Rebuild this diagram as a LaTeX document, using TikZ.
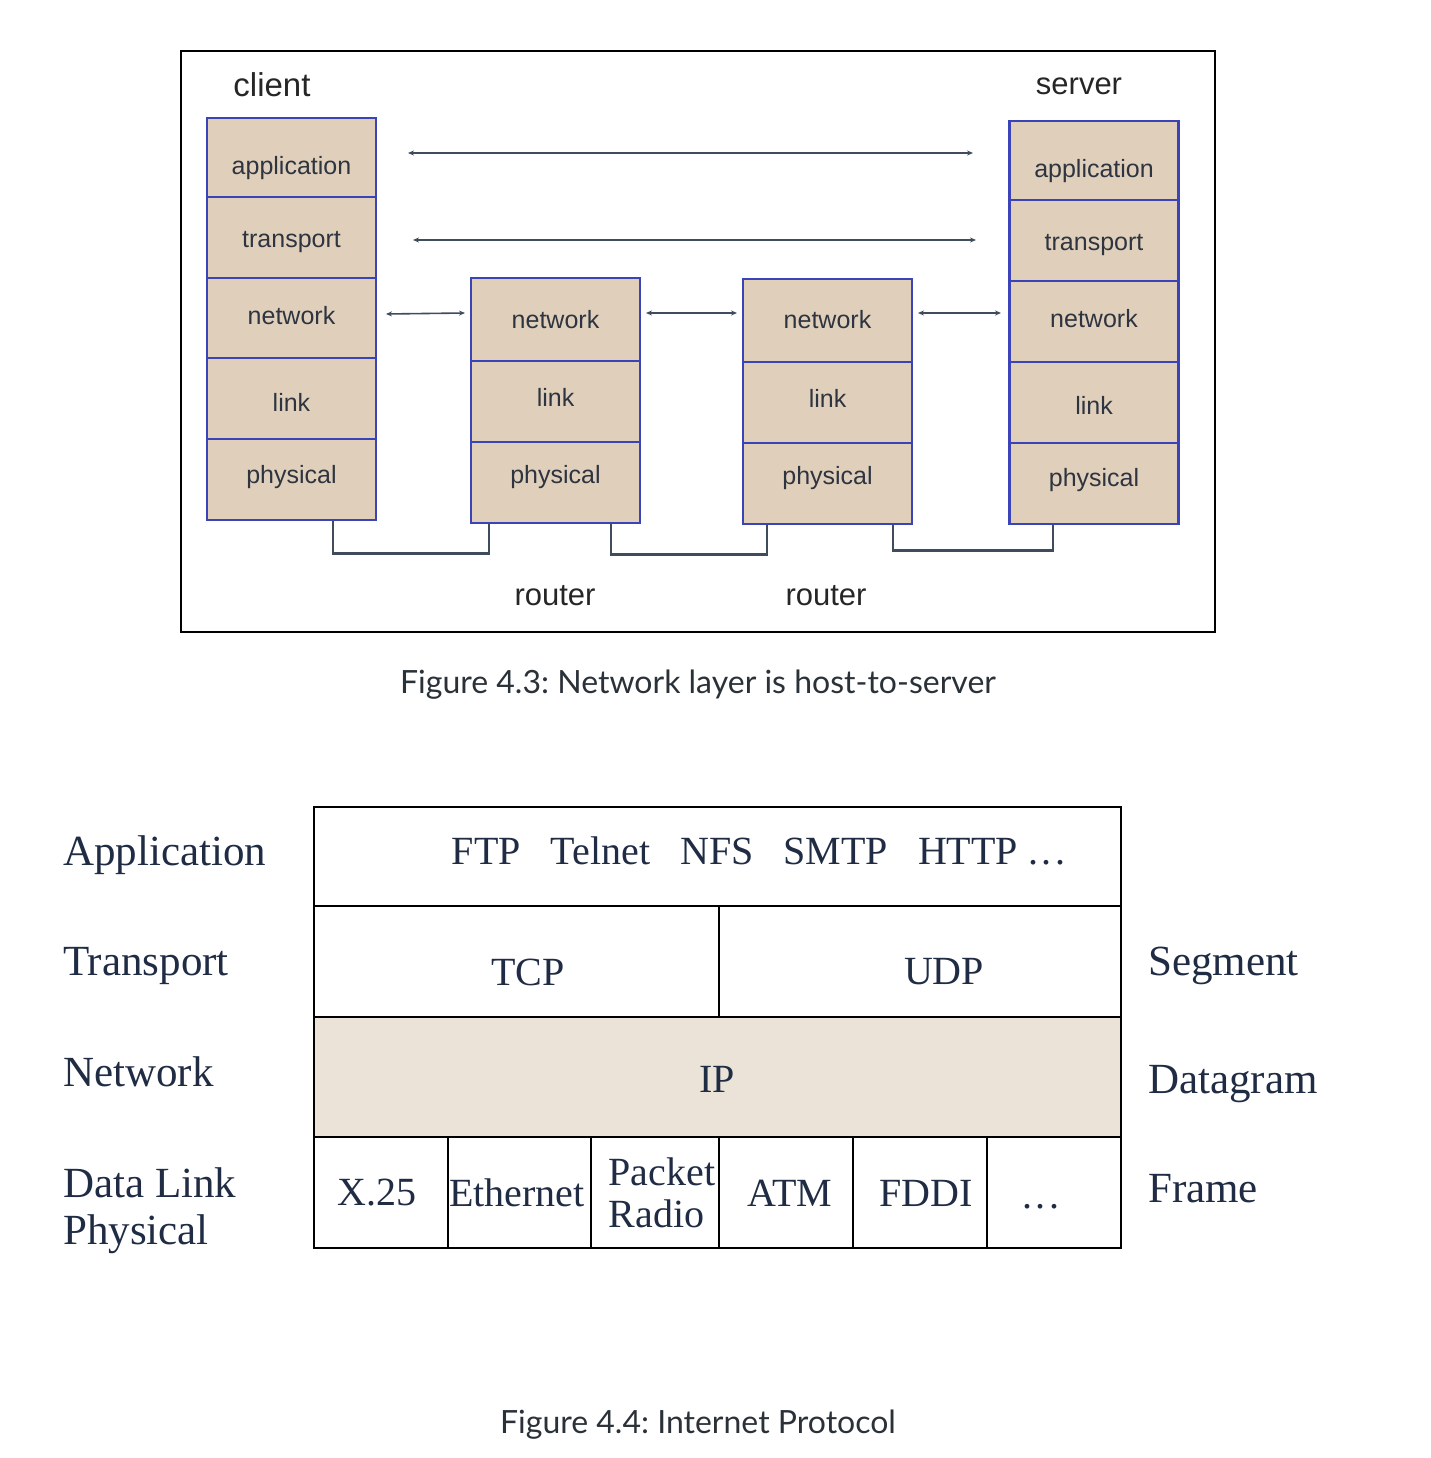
\documentclass[tikz,border=0pt]{standalone}
\usepackage{fontspec}
\setmainfont{Liberation Serif}
\newfontfamily\arialf{Liberation Sans}
\newfontfamily\latof{Lato}
\usetikzlibrary{arrows.meta,calc}
\definecolor{tanfill}{HTML}{E0D0BB}
\definecolor{boxblue}{HTML}{3A44B8}
\definecolor{celltext}{HTML}{2E3440}
\definecolor{wirecol}{HTML}{3E4C5E}
\definecolor{ipfill}{HTML}{EBE3D7}
\definecolor{serifcol}{HTML}{1F2C44}
\definecolor{capcol}{HTML}{2A3138}
\newcommand{\mydots}{.\hspace{3.5pt}.\hspace{3.5pt}.}
\frenchspacing
\tikzset{
  cell/.style={draw=boxblue, line width=2.8pt, fill=tanfill, minimum width=169pt,
    inner sep=0pt},
  ctext/.style={font=\arialf\fontsize{25}{25}\selectfont, text=celltext, inner sep=0pt},
  biarrow/.style={draw=wirecol, line width=1.6pt,
    {Stealth[length=6pt,width=5pt]}-{Stealth[length=6pt,width=5pt]}},
  wire/.style={draw=wirecol, line width=2.6pt},
  biglabel/.style={font=\arialf\fontsize{31}{31}\selectfont, text=black!85, inner sep=0pt},
  caption/.style={font=\latof\fontsize{32}{32}\selectfont\frenchspacing, text=capcol, inner sep=0pt},
  tcell/.style={draw=black, line width=2.5pt, inner sep=0pt},
  ttext/.style={text=serifcol, font=\fontsize{40}{42}\selectfont, align=center, inner sep=0pt},
  side/.style={font=\fontsize{43}{47}\selectfont, text=serifcol, inner sep=0pt, align=left}
}
\begin{document}
\begin{tikzpicture}[x=1pt,y=-1pt]
\useasboundingbox (0,0) rectangle (1430,1458);
% ---------- Figure 4.3 ----------
\node[draw=black, line width=2pt, minimum width=1034pt, minimum height=581pt, inner sep=0pt] (frame) at (698,341.5) {};
\node[biglabel, font=\arialf\fontsize{33}{33}\selectfont, anchor=base] (client) at (272,97) {client};
\node[biglabel, anchor=base] (server) at (1079,95) {server};
% client stack
\node[cell, minimum height=79pt, label={[ctext,yshift=-11pt]center:application}] (capp) at (291.5,157.5) {};
\node[cell, minimum height=81pt, label={[ctext,yshift=-5pt]center:transport}] (ctra) at (291.5,237.5) {};
\node[cell, minimum height=80pt, label={[ctext,yshift=2pt]center:network}] (cnet) at (291.5,318) {};
\node[cell, minimum height=81pt, label={[ctext,yshift=-4pt]center:link}] (clnk) at (291.5,398.5) {};
\node[cell, minimum height=81pt, label={[ctext,yshift=2pt]center:physical}] (cphy) at (291.5,479.5) {};
% router 1
\node[cell, minimum height=83pt, label={[ctext]center:network}] (anet) at (555.5,319.5) {};
\node[cell, minimum height=81pt, label={[ctext,yshift=4pt]center:link}] (alnk) at (555.5,401.5) {};
\node[cell, minimum height=81pt, label={[ctext,yshift=5pt]center:physical}] (aphy) at (555.5,482.5) {};
% router 2
\node[cell, minimum height=83pt, label={[ctext,yshift=1pt]center:network}] (bnet) at (827.5,320.5) {};
\node[cell, minimum height=81pt, label={[ctext,yshift=4pt]center:link}] (blnk) at (827.5,402.5) {};
\node[cell, minimum height=81pt, label={[ctext,yshift=5pt]center:physical}] (bphy) at (827.5,483.5) {};
% server stack
\node[cell, minimum height=79pt, label={[ctext,yshift=-11pt]center:application}] (sapp) at (1094,160.5) {};
\node[cell, minimum height=81pt, label={[ctext,yshift=-5pt]center:transport}] (stra) at (1094,240.5) {};
\node[cell, minimum height=81pt, label={[ctext,yshift=3pt]center:network}] (snet) at (1094,321.5) {};
\node[cell, minimum height=81pt, label={[ctext,yshift=-3pt]center:link}] (slnk) at (1094,402.5) {};
\node[cell, minimum height=81pt, label={[ctext,yshift=3pt]center:physical}] (sphy) at (1094,483.5) {};
% router labels
\node[biglabel, anchor=base] (r1) at (555,605) {router};
\node[biglabel, anchor=base] (r2) at (826,605) {router};
% peer arrows
\coordinate (a1) at (408,153); \coordinate (a2) at (973,153);
\coordinate (t1) at (413,240); \coordinate (t2) at (976,240);
\coordinate (n1) at (386,314); \coordinate (n2) at (465,313);
\coordinate (n3) at (646,313); \coordinate (n4) at (737,313);
\coordinate (n5) at (918,313); \coordinate (n6) at (1001,313);
\draw[biarrow] (a1) -- (a2);
\draw[biarrow] (t1) -- (t2);
\draw[biarrow] (n1) -- (n2);
\draw[biarrow] (n3) -- (n4);
\draw[biarrow] (n5) -- (n6);
% physical wires
\draw[wire] ([xshift=41.5pt]cphy.south) -- ++(0,32) -| ([xshift=-66.5pt]aphy.south);
\draw[wire] ([xshift=55.5pt]aphy.south) -- ++(0,30) -| ([xshift=-60.5pt]bphy.south);
\draw[wire] ([xshift=65.5pt]bphy.south) -- ++(0,25) -| ([xshift=-41pt]sphy.south);
\node[caption] (cap1) at (698,685) {Figure 4.3: Network layer is host-to-server};
% ---------- Figure 4.4 ----------
\node[tcell, minimum width=807pt, minimum height=99pt] (app) at (717.5,856.5) {};
\node[tcell, minimum width=405pt, minimum height=111pt] (tcp) at (516.5,961.5) {};
\node[tcell, minimum width=402pt, minimum height=111pt] (udp) at (920,961.5) {};
\node[tcell, fill=ipfill, minimum width=807pt, minimum height=120pt] (ip) at (717.5,1077) {};
\node[tcell, minimum width=134pt, minimum height=111pt] (x25) at (381,1192.5) {};
\node[tcell, minimum width=143pt, minimum height=111pt] (eth) at (519.5,1192.5) {};
\node[tcell, minimum width=128pt, minimum height=111pt] (pr) at (655,1192.5) {};
\node[tcell, minimum width=134pt, minimum height=111pt] (atm) at (786,1192.5) {};
\node[tcell, minimum width=134pt, minimum height=111pt] (fddi) at (920,1192.5) {};
\node[tcell, minimum width=134pt, minimum height=111pt] (dots) at (1054,1192.5) {};
% table texts
\node[ttext] (tapp) at (758.5,851) {FTP\hspace{30pt}Telnet\hspace{30pt}NFS\hspace{30pt}SMTP\hspace{30pt}HTTP\hspace{10pt}\mydots};
\node[ttext] (ttcp) at (528,972) {TCP};
\node[ttext] (tudp) at (944,972) {UDP};
\node[ttext] (tip) at (717,1079) {IP};
\node[ttext] (tx25) at (377,1193) {X.25};
\node[ttext] (teth) at (517,1193) {Ethernet};
\node[ttext, align=left] (tpr) at (662,1193) {Packet\\Radio};
\node[ttext] (tatm) at (790,1193) {ATM};
\node[ttext] (tfddi) at (926,1193) {FDDI};
\node[ttext, anchor=base] (tdots) at (1041,1208) {\mydots};
% side labels
\node[side, anchor=base west] (lapp) at (63,865) {Application};
\node[side, anchor=base west] (ltra) at (63,975) {Transport};
\node[side, anchor=base west] (lnet) at (63,1086) {Network};
\node[side, anchor=base west] (ldl) at (63,1197) {Data Link};
\node[side, anchor=base west] (lphy) at (63,1244) {Physical};
\node[side, anchor=base west] (rseg) at (1148,975) {Segment};
\node[side, anchor=base west] (rdat) at (1148,1093) {Datagram};
\node[side, anchor=base west] (rfra) at (1148,1202) {Frame};
\node[caption] (cap2) at (698,1425) {Figure 4.4: Internet Protocol};
\end{tikzpicture}
\end{document}
